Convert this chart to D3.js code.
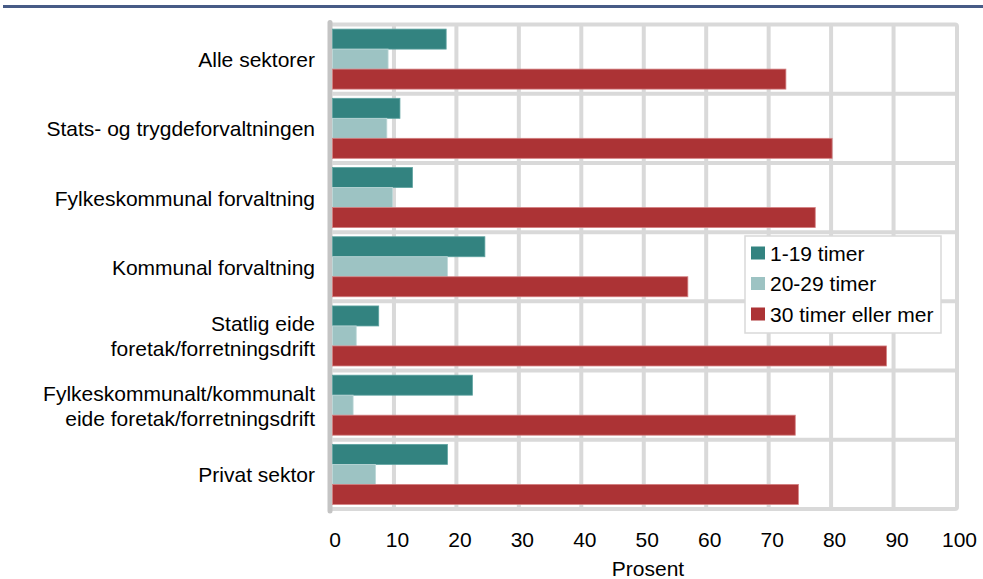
<!DOCTYPE html>
<html>
<head>
<meta charset="utf-8">
<script src="https://cdn.jsdelivr.net/npm/d3@7"></script>
<style>
  html, body { margin: 0; padding: 0; background: #fff; }
  svg { display: block; font-family: "Liberation Sans", Arial, sans-serif; }
</style>
</head>
<body>
<svg id="chart" width="983" height="579"></svg>
<script>
const categories = [
  "Alle sektorer",
  "Stats- og trygdeforvaltningen",
  "Fylkeskommunal forvaltning",
  "Kommunal forvaltning",
  "Statlig eide\nforetak/forretningsdrift",
  "Fylkeskommunalt/kommunalt\neide foretak/forretningsdrift",
  "Privat sektor"
];
const seriesNames = ["1-19 timer", "20-29 timer", "30 timer eller mer"];
const timer1_19 = [18.2, 10.8, 12.8, 24.4, 7.4, 22.4, 18.4];
const timer20_29 = [8.9, 8.7, 9.6, 18.4, 3.8, 3.3, 6.9];
const timer30pluss = [72.6, 80.0, 77.3, 56.9, 88.7, 74.1, 74.6];
const tickValues = [0, 10, 20, 30, 40, 50, 60, 70, 80, 90, 100];
const axisTitle = "Prosent";

const colors = ["#338380", "#9dc3c3", "#ac3335"];
const strokes = ["#5fa3a0", "#bcd7d7", "#d37f80"];
const seriesValues = [timer1_19, timer20_29, timer30pluss];

const svg = d3.select("#chart");
const FS = 21;

// header line
svg.append("rect").attr("x", 3).attr("y", 5).attr("width", 980).attr("height", 3).attr("fill", "#475b86");

const plotTop = 24.5, plotBottom = 509;
const x = d3.scaleLinear().domain([0, 100]).range([332.5, 957]);
const y = d3.scaleBand().domain(categories).range([plotTop, plotBottom]).padding(0);
const bw = y.bandwidth();
const pad = 4.6;
const ySub = d3.scaleBand().domain(seriesNames).range([pad, bw - pad]).padding(0);

const grid = svg.append("g");
// vertical gridlines
grid.selectAll("line.v").data(tickValues.slice(1, -1)).join("line")
  .attr("x1", d => x(d) - 1).attr("x2", d => x(d) - 1)
  .attr("y1", plotTop).attr("y2", plotBottom)
  .attr("stroke", "#d9d9d9").attr("stroke-width", 4);
// horizontal separators
grid.selectAll("line.h").data(categories.slice(1)).join("line")
  .attr("x1", x(0)).attr("x2", x(100))
  .attr("y1", d => y(d)).attr("y2", d => y(d))
  .attr("stroke", "#d9d9d9").attr("stroke-width", 4);
// frame
grid.append("rect").attr("x", 330).attr("y", plotTop).attr("width", x(100) - 330).attr("height", plotBottom - plotTop)
  .attr("fill", "none").attr("stroke", "#d9d9d9").attr("stroke-width", 4).attr("rx", 2);
// left axis line
grid.append("line").attr("x1", 330).attr("x2", 330).attr("y1", plotTop - 2).attr("y2", plotBottom + 2)
  .attr("stroke", "#c4c4c4").attr("stroke-width", 5).attr("stroke-linecap", "round");

// bars
const barsG = svg.append("g");
seriesNames.forEach((s, si) => {
  barsG.selectAll("rect.s" + si).data(categories).join("rect")
    .attr("x", x(0))
    .attr("y", (c) => y(c) + ySub(s))
    .attr("width", (c, i) => x(seriesValues[si][i]) - x(0))
    .attr("height", ySub.bandwidth())
    .attr("fill", colors[si])
    .attr("stroke", strokes[si]).attr("stroke-width", 0.8);
});

// category labels
const labG = svg.append("g").attr("font-size", FS).attr("fill", "#000");
categories.forEach(c => {
  const lines = c.split("\n");
  const cy = y(c) + bw / 2;
  const lh = 25;
  const t = labG.append("text").attr("text-anchor", "end");
  lines.forEach((ln, li) => {
    t.append("tspan").attr("x", 315)
      .attr("y", cy + 8 + (li - (lines.length - 1) / 2) * lh)
      .text(ln);
  });
});

// x axis tick labels
const xAxis = d3.axisBottom(x).tickValues(tickValues).tickSize(0).tickPadding(0).tickFormat(d3.format("d"));
const axG = svg.append("g").attr("transform", "translate(2,532)").call(xAxis);
axG.select(".domain").remove();
axG.selectAll("text").attr("font-size", FS).attr("fill", "#000")
  .attr("font-family", '"Liberation Sans", Arial, sans-serif')
  .attr("dy", null).attr("y", 15);

svg.append("text").attr("x", 648).attr("y", 576).attr("text-anchor", "middle")
  .attr("font-size", FS).attr("fill", "#000").text(axisTitle);

// legend
const lg = svg.append("g");
lg.append("rect").attr("x", 745).attr("y", 236).attr("width", 196).attr("height", 97)
  .attr("fill", "#fff").attr("stroke", "#d9d9d9").attr("stroke-width", 1.5);
seriesNames.forEach((s, i) => {
  const cy = 253 + i * 30.5;
  lg.append("rect").attr("x", 751).attr("y", cy - 6.5).attr("width", 14).attr("height", 13).attr("fill", colors[i]);
  lg.append("text").attr("x", 770).attr("y", cy + 7.5).attr("font-size", FS).attr("fill", "#000").text(s);
});
</script>
</body>
</html>
